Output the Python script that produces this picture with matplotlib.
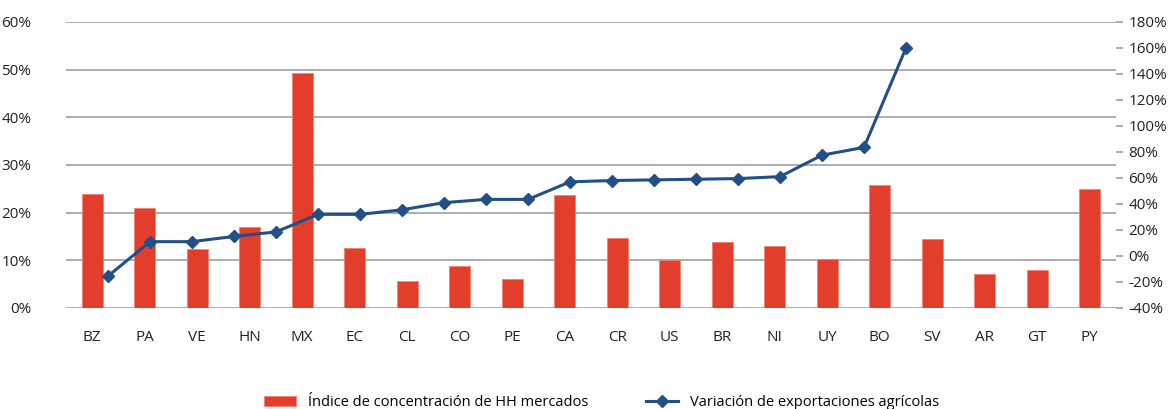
import numpy as np
import matplotlib.pyplot as plt
from matplotlib.ticker import PercentFormatter

plt.rcParams['font.family'] = ['Open Sans', 'DejaVu Sans']
plt.rcParams['axes.unicode_minus'] = False

countries = ["BZ", "PA", "VE", "HN", "MX", "EC", "CL", "CO", "PE", "CA",
             "CR", "US", "BR", "NI", "UY", "BO", "SV", "AR", "GT", "PY"]
hh_index = [24.0, 21.0, 12.4, 17.0, 49.2, 12.5, 5.7, 8.8, 6.0, 23.7,
            14.7, 10.0, 13.8, 13.1, 10.3, 25.8, 14.5, 7.1, 8.0, 25.0]
# export variation series (plotted on its own x scale, as in the source)
export_var = [-15.5, 11, 11, 15, 18.5, 32, 32, 35.5, 41, 43.5,
              43.5, 57, 58, 58.5, 59, 59.5, 61, 77.5, 83.5, 160]
line_x = np.arange(1, len(export_var) + 1)

bar_color = "#e33d2b"
line_color = "#234f88"
grid_color = "#a0a0a0"

fig = plt.figure(figsize=(11.68, 4.09), dpi=100)
ax = fig.add_axes([0.0565, 0.247, 0.899, 0.6995])

x = np.arange(len(countries))
bars = ax.bar(x, hh_index, width=0.4, color=bar_color, edgecolor="#f08070",
              linewidth=0.6, zorder=3, label="Índice de concentración de HH mercados")
ax.set_xlim(-0.5, len(countries) - 0.5)
ax.set_ylim(0, 60)
ax.set_yticks(np.arange(0, 61, 10))
ax.yaxis.set_major_formatter(PercentFormatter(decimals=0))
ax.set_xticks(x)
ax.set_xticklabels(countries)
ax.grid(axis="y", color=grid_color, linewidth=1.2, zorder=0)
for s in ["top", "left", "right", "bottom"]:
    ax.spines[s].set_visible(False)
ax.tick_params(axis="both", length=0, labelsize=11, colors="#222222")
ax.tick_params(axis="x", pad=16)
ax.tick_params(axis="y", pad=25)

ax2 = fig.add_axes(ax.get_position(), frameon=False)
ax2.plot(line_x, export_var, color=line_color, linewidth=2.2, marker="D",
         markersize=6.5, zorder=4, label="Variación de exportaciones agrícolas")
ax2.set_xlim(0, 25)
ax2.set_ylim(-40, 180)
ax2.set_yticks(np.arange(-40, 181, 20))
ax2.yaxis.set_major_formatter(PercentFormatter(decimals=0))
ax2.yaxis.tick_right()
ax2.xaxis.set_visible(False)
ax2.spines["right"].set_visible(True)
ax2.spines["right"].set_color(grid_color)
ax2.spines["right"].set_linewidth(1.2)
ax2.tick_params(axis="y", length=5, width=1.2, color=grid_color, labelsize=11,
                labelcolor="#222222", pad=4)

handles = [bars, ax2.get_lines()[0]]
fig.legend(handles, [h.get_label() for h in handles], loc="lower center",
           bbox_to_anchor=(0.515, -0.035), ncol=2, frameon=False, fontsize=10.5,
           columnspacing=4, handlelength=2.2)

fig.savefig("out.png", dpi=100)
